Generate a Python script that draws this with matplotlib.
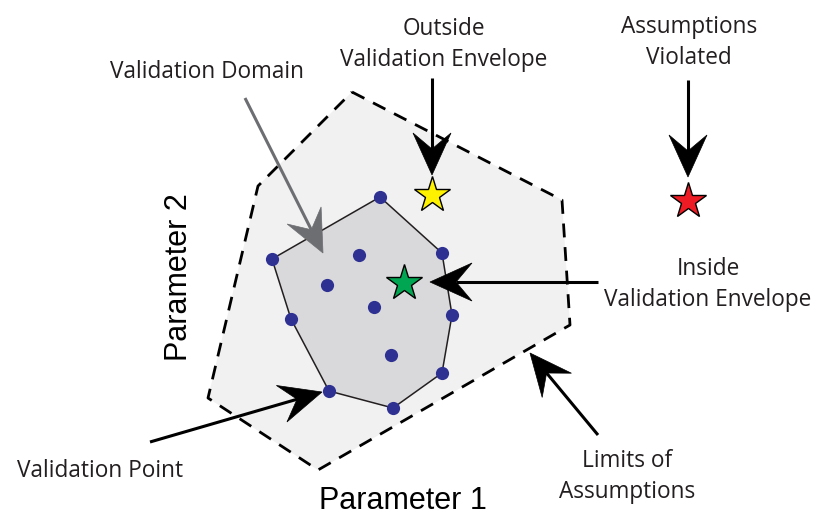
import numpy as np
import matplotlib.pyplot as plt
from matplotlib.patches import Polygon

# ---- data (pixel-space diagram coordinates) ----
outer_x = [352, 562, 570, 318, 208, 258]
outer_y = [92, 200, 325, 470, 398, 186]
hull_x = [380, 442, 452, 442, 393, 329, 291, 272]
hull_y = [197, 253, 315, 373, 408, 391, 319, 259]
inner_x = [327, 359, 374, 391]
inner_y = [285, 255, 307, 355]
star_x = [432, 404, 688]
star_y = [195, 283, 201]
star_colors = ["#fff200", "#00a651", "#ed1c24"]

labels = [["Validation Domain"], ["Outside", "Validation Envelope"],
          ["Assumptions", "Violated"], ["Inside", "Validation Envelope"],
          ["Validation Point"], ["Limits of", "Assumptions"]]
label_x = [207, 444, 689, 708, 100, 627]
label_y = [78, 35, 33, 275, 477, 467]   # baseline of first line
line_gap = 31

arrow_start = [(245, 98), (432, 78), (688, 80), (598, 282), (150, 442), (598, 435)]
arrow_tip = [(323, 253), (432, 175), (688, 177), (430, 282), (322, 392), (530, 353)]
arrow_colors = ["#6d6e71", "black", "black", "black", "black", "black"]

axis_labels = ["Parameter 1", "Parameter 2"]

TXT = "#231f20"
fig = plt.figure(figsize=(8.18, 5.15), dpi=100)
ax = fig.add_axes([0, 0, 1, 1])
ax.set_xlim(0, 818)
ax.set_ylim(515, 0)
ax.axis("off")

# outer region
ax.add_patch(Polygon(np.column_stack([outer_x, outer_y]), closed=True,
                     facecolor="#f1f1f2", edgecolor="none", zorder=1))
ox = outer_x + outer_x[:1]
oy = outer_y + outer_y[:1]
ax.plot(ox, oy, color="black", lw=2, dashes=(5, 3.5), zorder=2)

# hull
ax.add_patch(Polygon(np.column_stack([hull_x, hull_y]), closed=True,
                     facecolor="#d9d9db", edgecolor="#231f20", lw=1.1, zorder=3))
ax.plot(hull_x, hull_y, "o", color="#2e3192", ms=9.5, mec="none", zorder=5)
ax.plot(inner_x, inner_y, "o", color="#2e3192", ms=9.5, mec="none", zorder=5)
for x, y, c in zip(star_x, star_y, star_colors):
    ax.plot([x], [y], marker="*", color=c, ms=27, mec="black", mew=1.0, zorder=6)

# arrows
def arrow(s, t, color, L=42, W=19, notch=16, lw=2.2):
    s = np.array(s, float); t = np.array(t, float)
    d = (t - s) / np.linalg.norm(t - s)
    n = np.array([-d[1], d[0]])
    back = t - (L - notch) * d
    ax.plot([s[0], back[0]], [s[1], back[1]], color=color, lw=lw, zorder=7,
            solid_capstyle="butt")
    pts = [t, t - L * d + W * n, back, t - L * d - W * n]
    ax.add_patch(Polygon(pts, closed=True, facecolor=color, edgecolor=color,
                         lw=0.5, zorder=8))

for s, t, c in zip(arrow_start, arrow_tip, arrow_colors):
    arrow(s, t, c)

font = "Open Sans"
for lines, x, y in zip(labels, label_x, label_y):
    for i, line in enumerate(lines):
        ax.text(x, y + i * line_gap, line, ha="center", va="baseline",
                fontsize=16.3, color=TXT, family=font)

ax.text(403, 509, axis_labels[0], ha="center", va="baseline", fontsize=22,
        color="black", family="Liberation Sans")
ax.text(187, 277, axis_labels[1], ha="center", va="baseline", fontsize=22,
        color="black", family="Liberation Sans", rotation=90,
        rotation_mode="anchor")

fig.savefig("out.png", dpi=100)
